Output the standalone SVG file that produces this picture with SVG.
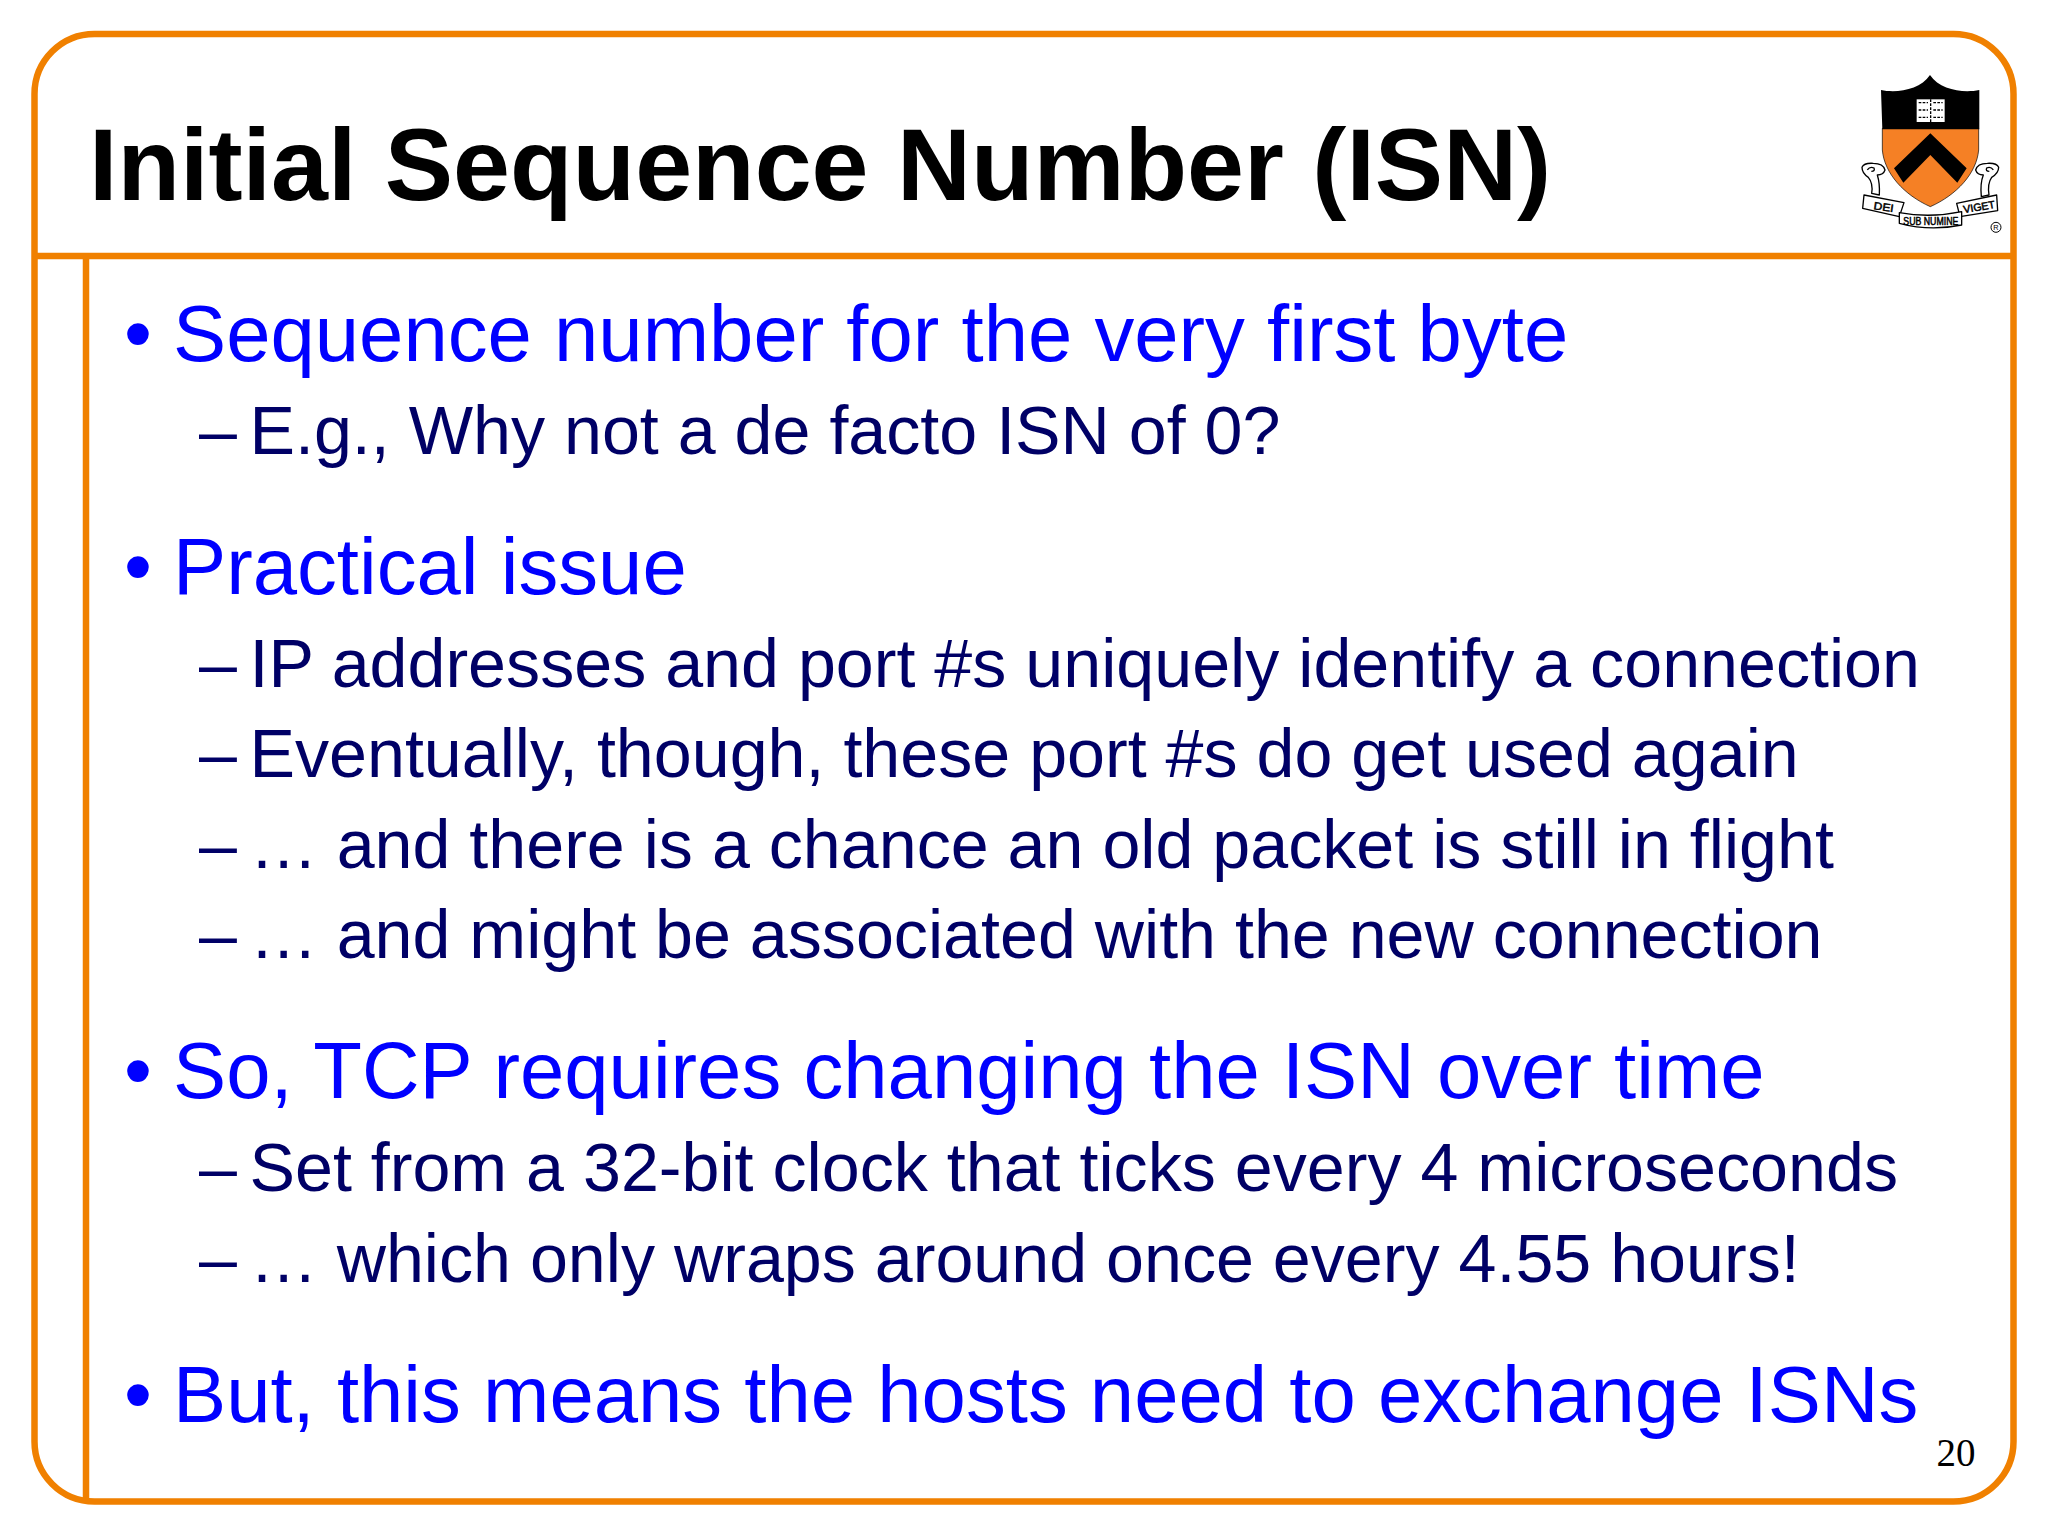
<svg xmlns="http://www.w3.org/2000/svg" width="2048" height="1536" viewBox="0 0 2048 1536">
<style>
text{font-family:"Liberation Sans",Arial,sans-serif}
.t{font-size:102.4px;font-weight:700;fill:#000}
.a{font-size:79.7px;fill:#0000ff}
.b{font-size:68.2px;fill:#000066}
.f{fill:none;stroke:#f08000;stroke-width:6.5}
.r{fill:#fff;stroke:#000;stroke-width:4;stroke-linejoin:round}
.c{fill:none;stroke:#000;stroke-width:4}
.m{font-size:32px;fill:#000;stroke:#000;stroke-width:1.5}
</style>
<rect width="2048" height="1536" fill="#fff"/>
<g id="frame">
<rect class="f" x="34.5" y="34" width="1979" height="1467.5" rx="60"/>
<path class="f" d="M34 256H2014M86 256V1501"/>
</g>
<g id="title"><text class="t" x="89" y="200">Initial Sequence Number (ISN)</text></g>
<g id="logo" transform="translate(1840 60) scale(.3333)">
<path fill="#f58025" stroke="#000" stroke-width="2" d="M127 205H416V270C410 340 350 405 271 440C192 405 133 340 127 270Z"/>
<path fill="#000" d="M123 90C170 100 240 90 270 45C300 90 370 100 418 90V208H127Z"/>
<path fill="#000" d="M271 220L380 325L352 368L271 285L190 368L162 325Z"/>
<path fill="#fff" d="M230 118H314V186H230Z"/>
<path stroke="#000" stroke-width="4" fill="none" stroke-dasharray="8 4" d="M272 118V186M236 128H264M280 128H308M236 150H264M280 150H308M236 172H264M280 172H308"/>
<path class="r" d="M72 405L192 428L178 470L68 445Z"/>
<path class="r" d="M470 405L350 430L360 470L473 452Z"/>
<path class="r" d="M178 458Q270 475 365 455V495Q270 515 178 490Z"/>
<path class="r" d="M85 352Q66 340 66 322Q72 308 100 310Q130 310 135 330Q130 345 112 345Q120 370 118 405L95 400Q100 370 85 352Z"/>
<path class="r" d="M455 352Q476 340 476 322Q470 308 442 310Q412 310 407 330Q412 345 430 345Q420 370 424 410L447 405Q442 370 455 352Z"/>
<path class="c" d="M82 330Q90 318 102 324Q106 334 94 334"/>
<path class="c" d="M460 330Q452 318 440 324Q436 334 448 334"/>
<text class="m" transform="translate(100 448) rotate(8)" textLength="60" lengthAdjust="spacingAndGlyphs">DEI</text>
<text class="m" x="190" y="495" textLength="165" lengthAdjust="spacingAndGlyphs">SUB NUMINE</text>
<text class="m" transform="translate(372 460) rotate(-10)" textLength="96" lengthAdjust="spacingAndGlyphs">VIGET</text>
<circle cx="468" cy="502" r="15" fill="none" stroke="#000" stroke-width="3"/>
<text x="468" y="510" font-size="22" text-anchor="middle" fill="#000">R</text>
</g>
<g id="body">
<text class="a" x="124" y="361">•</text><text class="a" x="173" y="361">Sequence number for the very first byte</text>
<text class="b" x="199" y="454">–</text><text class="b" x="249.5" y="454">E.g., Why not a de facto ISN of 0?</text>
<text class="a" x="124" y="594">•</text><text class="a" x="173" y="594">Practical issue</text>
<text class="b" x="199" y="687">–</text><text class="b" x="249.5" y="687">IP addresses and port #s uniquely identify a connection</text>
<text class="b" x="199" y="777">–</text><text class="b" x="249.5" y="777">Eventually, though, these port #s do get used again</text>
<text class="b" x="199" y="868">–</text><text class="b" x="249.5" y="868">… and there is a chance an old packet is still in flight</text>
<text class="b" x="199" y="958">–</text><text class="b" x="249.5" y="958">… and might be associated with the new connection</text>
<text class="a" x="124" y="1098">•</text><text class="a" x="173" y="1098">So, TCP requires changing the ISN over time</text>
<text class="b" x="199" y="1191">–</text><text class="b" x="249.5" y="1191">Set from a 32-bit clock that ticks every 4 microseconds</text>
<text class="b" x="199" y="1282">–</text><text class="b" x="249.5" y="1282">… which only wraps around once every 4.55 hours!</text>
<text class="a" x="124" y="1422">•</text><text class="a" x="173" y="1422">But, this means the hosts need to exchange ISNs</text>
</g>
<text id="page" x="1936.5" y="1466" font-size="39" style="font-family:'Liberation Serif',serif" fill="#000">20</text>
</svg>
